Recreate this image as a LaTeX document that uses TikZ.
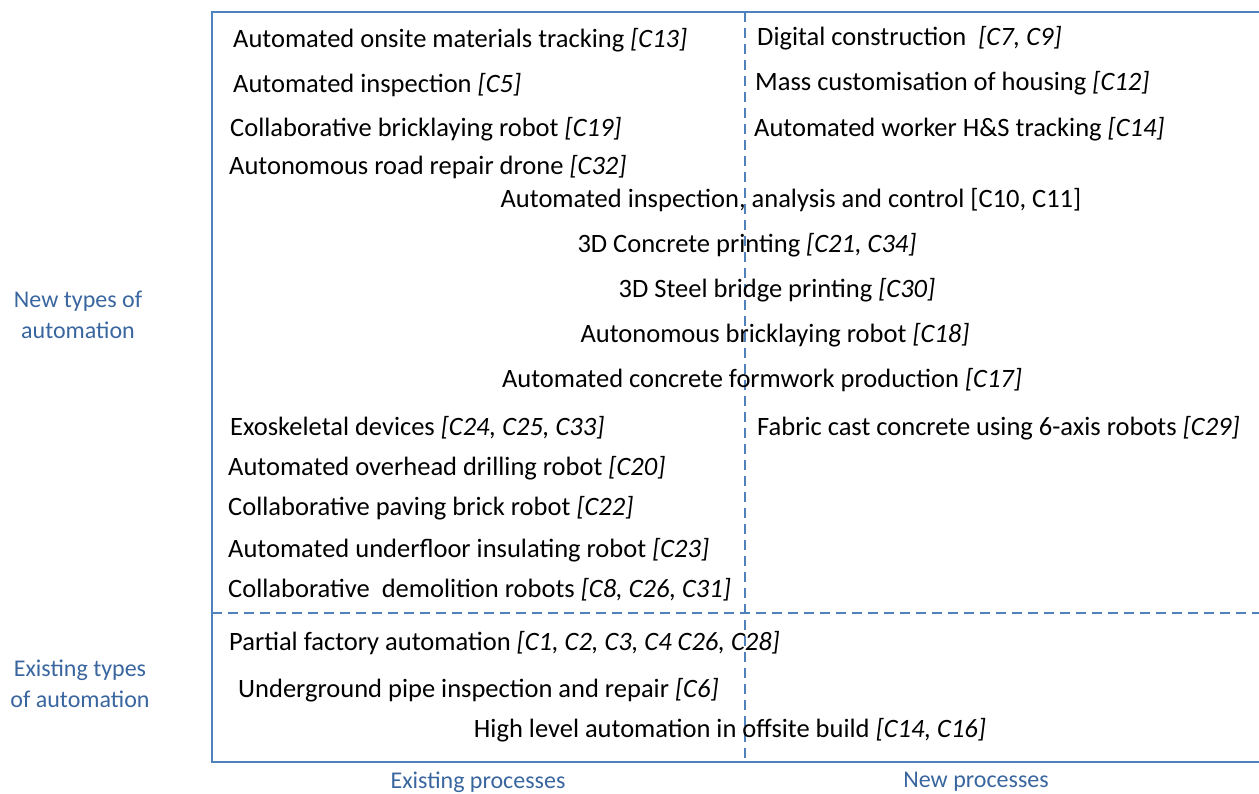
\documentclass[tikz,border=0pt]{standalone}
\usepackage{fontspec}
\setmainfont{Carlito}
\usepackage{xcolor}
\usepackage{tikz}
\usetikzlibrary{positioning}
\definecolor{frameblue}{HTML}{4F81BD}
\definecolor{labelblue}{HTML}{3A66A0}
\tikzset{
  item/.style={inner sep=0pt,anchor=west,font=\fontsize{26.5}{30}\selectfont},
  citem/.style={inner sep=0pt,font=\fontsize{26.5}{30}\selectfont},
  axislabel/.style={inner sep=0pt,align=center,text=labelblue,font=\fontsize{24}{31}\selectfont},
  frameline/.style={draw=frameblue,line width=2.6pt},
  divider/.style={draw=frameblue,line width=2.4pt,dash pattern=on 10pt off 6pt}
}
\newcommand{\cref}[1]{\textit{[#1]}}
\begin{document}
\begin{tikzpicture}[x=1pt,y=-1pt]
            \useasboundingbox (0,0) rectangle (1259,794);

            \coordinate (tl) at (212,12);
            \coordinate (bl) at (212,762);
            \coordinate (tr) at (1259,12);
            \coordinate (br) at (1259,762);
            \coordinate (vtop) at (745,12);
            \coordinate (vbot) at (745,762);
            \coordinate (hleft) at (212,613);
            \coordinate (hright) at (1259,613);

            \draw[frameline] (tr) -- (tl) -- (bl) -- (br);
            \draw[divider] (vtop) -- (vbot);
            \draw[divider] (hleft) -- (hright);

            \node[item] (onsite) at (233,40) {Automated onsite materials tracking \cref{C13}};
            \node[item] (inspect) at (233,85) {Automated inspection \cref{C5}};
            \node[item] (collabbrick) at (230,129) {Collaborative bricklaying robot \cref{C19}};
            \node[item] (drone) at (229,167) {Autonomous road repair drone \cref{C32}};

            \node[item] (digital) at (757,38) {Digital construction\ \ \cref{C7, C9}};
            \node[item] (mass) at (755,83) {Mass customisation of housing \cref{C12}};
            \node[item] (worker) at (754,129) {Automated worker H\&S tracking \cref{C14}};

            \node[citem] (analysis) at (791,200) {Automated inspection, analysis and control [C10, C11]};
            \node[citem] (concrete) at (747,245) {3D Concrete printing \cref{C21, C34}};
            \node[citem] (steel) at (777,290) {3D Steel bridge printing \cref{C30}};
            \node[citem] (autobrick) at (775,335) {Autonomous bricklaying robot \cref{C18}};
            \node[citem] (formwork) at (762,380) {Automated concrete formwork production \cref{C17}};

            \node[item] (exo) at (230,428) {Exoskeletal devices \cref{C24, C25, C33}};
            \node[item] (fabric) at (757,428) {Fabric cast concrete using 6-axis robots \cref{C29}};
            \node[item] (drilling) at (228,468) {Automated overhead drilling robot \cref{C20}};
            \node[item] (paving) at (228,508) {Collaborative paving brick robot \cref{C22}};
            \node[item] (underfloor) at (228,550) {Automated underfloor insulating robot \cref{C23}};
            \node[item] (demolition) at (228,590) {Collaborative\ \ demolition robots \cref{C8, C26, C31}};

            \node[item] (factory) at (229,643) {Partial factory automation \cref{C1, C2, C3, C4 C26, C28}};
            \node[item] (pipe) at (238,690) {Underground pipe inspection and repair \cref{C6}};
            \node[citem] (offsite) at (730,730) {High level automation in offsite build \cref{C14, C16}};

            \node[axislabel] (newtypes) at (78,315) {New types of\\automation};
            \node[axislabel] (existtypes) at (80,684) {Existing types\\of automation};
            \node[axislabel] (existproc) at (478,782) {Existing processes};
            \node[axislabel] (newproc) at (976,782) {New processes};
        \end{tikzpicture}
\end{document}
